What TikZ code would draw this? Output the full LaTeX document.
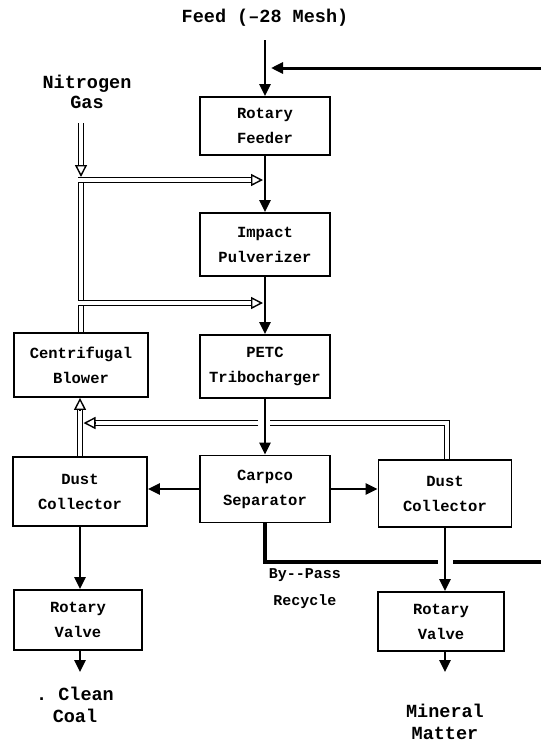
\documentclass[tikz,border=0pt]{standalone}
\usepackage{fontspec}
\newfontfamily\tw{Liberation Mono}
\usetikzlibrary{arrows.meta,calc}
\begin{document}
\begin{tikzpicture}[x=1pt,y=-1pt,
 box/.style={draw, line width=1.8pt, inner sep=0pt, align=center, font=\tw\bfseries\fontsize{15.5}{25}\selectfont},
 flow/.style={line width=2.6pt, -{Triangle[length=12pt,width=11pt]}},
 plain/.style={line width=3.2pt},
 gas/.style={double, line width=1.4pt, double distance=3.4pt},
 gastip/.style={line width=1.4pt, -{Triangle[open,length=12pt,width=12pt,fill=white]}},
 lbl/.style={align=center, font=\tw\bfseries\fontsize{18.5}{22}\selectfont},
 small/.style={align=center, font=\tw\bfseries\fontsize{15}{27}\selectfont},
]
\useasboundingbox (0,0) rectangle (541,747);
% labels
\node[lbl] (feed) at (265,18) {Feed (\textendash28 Mesh)};
\node[lbl, font=\tw\bfseries\fontsize{18.5}{20}\selectfont] (n2) at (87,92) {Nitrogen\\Gas};
\node[lbl] (clean) at (75,705) {.\ Clean\\Coal};
\node[lbl] (mineral) at (445,722) {Mineral\\Matter};
\node[small] (bypass) at (305,589) {By-{}-Pass\\Recycle};
% boxes
\node[box, minimum width=130pt, minimum height=58pt] (feeder) at (265,126) {Rotary\\Feeder};
\node[box, minimum width=130pt, minimum height=63pt] (pulv) at (265,244.5) {Impact\\Pulverizer};
\node[box, minimum width=130pt, minimum height=63pt] (petc) at (265,366.5) {PETC\\Tribocharger};
\node[box, minimum width=134pt, minimum height=64pt] (blower) at (81,365) {Centrifugal\\Blower};
\node[box, minimum width=130pt, minimum height=67pt] (carpco) at (265,489) {Carpco\\Separator};
\node[box, minimum width=134pt, minimum height=69pt] (dcl) at (80,491.5) {Dust\\Collector};
\node[box, minimum width=133pt, minimum height=67pt] (dcr) at (445,493.5) {Dust\\Collector};
\node[box, minimum width=128pt, minimum height=60pt] (rvl) at (78,620) {Rotary\\Valve};
\node[box, minimum width=126pt, minimum height=59pt] (rvr) at (441,621.5) {Rotary\\Valve};
% coordinates
\coordinate (feedtop) at (265,40);
\coordinate (recR) at (541,68);
\coordinate (recL) at (271,68);
\coordinate (ccout) at (80,672);
\coordinate (mmout) at (445,672);
\coordinate (bpc) at (265,562);
\coordinate (gapL) at (438,562);
\coordinate (gapR) at (453,562);
\coordinate (bpR) at (541,562);
\coordinate (n2top) at (81,123);
\coordinate (n2tip) at (81,177);
\coordinate (j1) at (78,180);
\coordinate (j1t) at (263,180);
\coordinate (j2) at (78,303);
\coordinate (j2t) at (263,303);
\coordinate (r1) at (447,423);
\coordinate (rgapR) at (270,423);
\coordinate (rgapL) at (258,423);
\coordinate (rtip) at (83.5,423);
% solid flows
\draw[flow] (feedtop) -- (feeder.north);
\draw[flow, line width=3pt] (recR) -- (recL);
\draw[flow] (feeder.south) -- (pulv.north);
\draw[flow] (pulv.south) -- (petc.north);
\draw[flow] (petc.south) -- (carpco.north);
\draw[flow] (carpco.west) -- (carpco.west -| dcl.east);
\draw[flow] (carpco.east) -- (carpco.east -| dcr.west);
\draw[flow] (dcl.south) -- (dcl.south |- rvl.north);
\draw[flow] (dcl.south |- rvl.south) -- (ccout);
\draw[flow] (dcr.south) -- (dcr.south |- rvr.north);
\draw[flow] (dcr.south |- rvr.south) -- (mmout);
\draw[plain] (carpco.south) -- (bpc) -- (gapL);
\draw[plain] (gapR) -- (bpR);
% gas lines
\draw[gas] (blower.north) -- (blower.north |- j1);
\draw[gas, shorten >=11pt] (j1) -- (j1t);
\draw[gastip] ($(j1t)+(-12,0)$) -- (j1t);
\draw[gas, shorten >=11pt] (j2) -- (j2t);
\draw[gastip] ($(j2t)+(-12,0)$) -- (j2t);
\draw[gas, shorten >=11pt] (n2top) -- (n2tip);
\draw[gastip] ($(n2tip)+(0,-12)$) -- (n2tip);
\draw[gas, shorten >=11pt] (dcl.north) -- (dcl.north |- blower.south);
\draw[gastip] ($(dcl.north |- blower.south)+(0,12)$) -- (dcl.north |- blower.south);
\draw[gas] (r1 |- dcr.north) -- (r1) -- (rgapR);
\draw[gas, shorten >=11pt] (rgapL) -- (rtip);
\draw[gastip] ($(rtip)+(12,0)$) -- (rtip);
\end{tikzpicture}
\end{document}
